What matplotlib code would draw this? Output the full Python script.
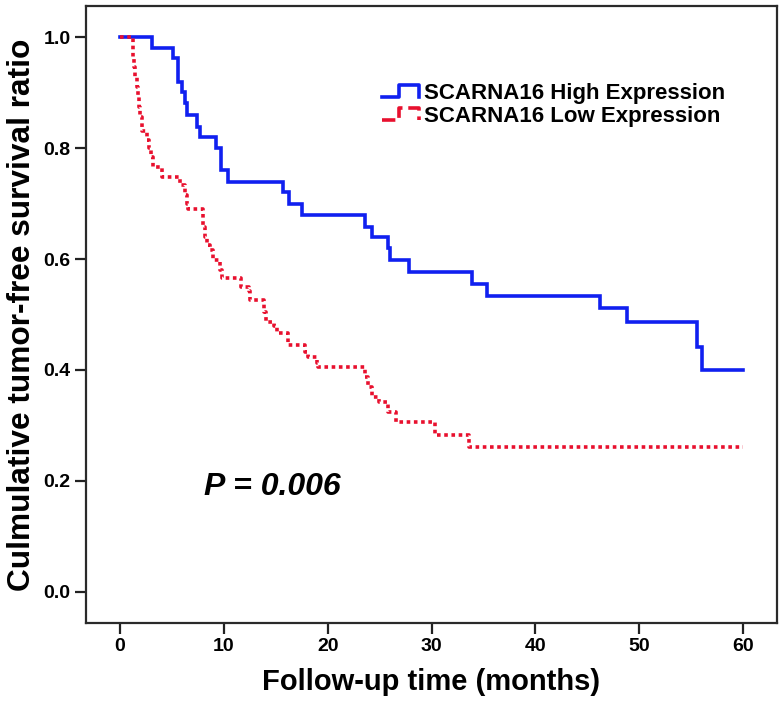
import matplotlib
matplotlib.use("Agg")
import matplotlib.pyplot as plt
from matplotlib.lines import Line2D
from matplotlib.legend_handler import HandlerBase
from matplotlib.font_manager import FontProperties

# ---- data ----
high_times = [0, 3.05, 5.14, 5.55, 5.94, 6.26, 6.42, 7.39, 7.71, 9.25, 9.70, 10.44,
              15.7, 16.3, 17.5, 23.6, 24.25, 25.85, 26.0, 27.84, 33.9, 35.3, 46.2,
              48.8, 55.55, 56.0, 60]
high_surv = [1.0, 0.981, 0.962, 0.919, 0.901, 0.881, 0.859, 0.838, 0.820, 0.800,
             0.760, 0.739, 0.721, 0.700, 0.679, 0.658, 0.639, 0.619, 0.598, 0.577,
             0.555, 0.534, 0.511, 0.487, 0.442, 0.400, 0.400]

low_times = [0, 1.22, 1.35, 1.45, 1.61, 1.76, 1.86, 1.93, 2.09, 2.57, 2.82, 2.99,
             3.18, 4.05, 5.8, 6.26, 6.42, 6.55, 7.95, 8.02, 8.19, 8.35, 8.67, 8.99,
             9.63, 9.80, 11.7, 12.4, 12.5, 13.9, 14.1, 14.8, 15.1, 16.2, 17.8,
             18.1, 18.95, 19.1, 23.6, 23.9, 24.3, 24.9, 25.8, 26.6, 30.3, 33.6, 60]
low_surv = [1.0, 0.964, 0.946, 0.928, 0.910, 0.892, 0.874, 0.856, 0.830, 0.815,
            0.800, 0.784, 0.766, 0.747, 0.733, 0.716, 0.700, 0.691, 0.676, 0.658,
            0.640, 0.625, 0.617, 0.598, 0.580, 0.565, 0.550, 0.543, 0.526, 0.505,
            0.487, 0.479, 0.466, 0.445, 0.433, 0.424, 0.412, 0.405, 0.388, 0.370,
            0.352, 0.343, 0.325, 0.307, 0.283, 0.261, 0.261]

series_labels = ["SCARNA16 High Expression", "SCARNA16 Low Expression"]
x_ticks = [0, 10, 20, 30, 40, 50, 60]
y_ticks = [0.0, 0.2, 0.4, 0.6, 0.8, 1.0]
p_text = "P = 0.006"

BLUE = "#1020F0"
RED = "#E8102E"

plt.rcParams['font.family'] = ['Liberation Sans', 'DejaVu Sans']

fig = plt.figure(figsize=(7.84, 7.08), dpi=100)
ax = fig.add_axes([86 / 784, 1 - 623 / 708, (777 - 86) / 784, (623 - 6) / 708])

ax.step(high_times, high_surv, where='post', color=BLUE, lw=2.6,
        solid_joinstyle='miter', zorder=3)
ax.step(low_times, low_surv, where='post', color=RED, lw=2.6,
        linestyle=(0, (1, 1.0)), zorder=4)

ax.set_xlim(-3.27, 63.27)
ax.set_ylim(-0.056, 1.056)
ax.set_xticks(x_ticks)
ax.set_yticks(y_ticks)
ax.set_xticklabels([str(v) for v in x_ticks])
ax.set_yticklabels([f"{v:.1f}" for v in y_ticks])

tick_fp = FontProperties(family=['Liberation Sans'], weight='bold', size=14)
for lab in ax.get_xticklabels() + ax.get_yticklabels():
    lab.set_fontproperties(tick_fp)

ax.tick_params(axis='both', direction='out', length=8, width=1.6, color='#222222', pad=3)
for sp in ax.spines.values():
    sp.set_color('#2a2a2a')
    sp.set_linewidth(1.6)

ax.set_xlabel("Follow-up time (months)", fontsize=21, fontweight='bold', labelpad=9)
ax.set_ylabel("Culmulative tumor-free survival ratio", fontsize=22.8, fontweight='bold', labelpad=5)

ax.text(14.7, 0.189, p_text, fontsize=23, fontweight='bold', style='italic',
        ha='center', va='center')


class StepHandler(HandlerBase):
    def create_artists(self, legend, orig_handle, xdescent, ydescent, width, height,
                       fontsize, trans):
        x0 = -xdescent
        y0 = -ydescent
        xs = [x0, x0 + 0.45 * width, x0 + 0.45 * width, x0 + width, x0 + width]
        ys = [y0 + 0.1 * height, y0 + 0.1 * height, y0 + 0.9 * height,
              y0 + 0.9 * height, y0 + 0.1 * height]
        ln = Line2D(xs, ys, color=orig_handle.get_color(),
                    linestyle=orig_handle.get_linestyle(),
                    linewidth=orig_handle.get_linewidth(), transform=trans)
        return [ln]


h1 = Line2D([], [], color=BLUE, lw=2.6)
h2 = Line2D([], [], color=RED, lw=2.6, linestyle=(0, (1, 1.0)))
leg = ax.legend([h1, h2], series_labels, loc='upper left', bbox_to_anchor=(0.415, 0.89),
                frameon=False, handler_map={Line2D: StepHandler()},
                prop=dict(weight='bold', size=16), handlelength=1.7, handletextpad=0.22,
                labelspacing=0.1, borderaxespad=0)

fig.savefig("out.png", dpi=100)
